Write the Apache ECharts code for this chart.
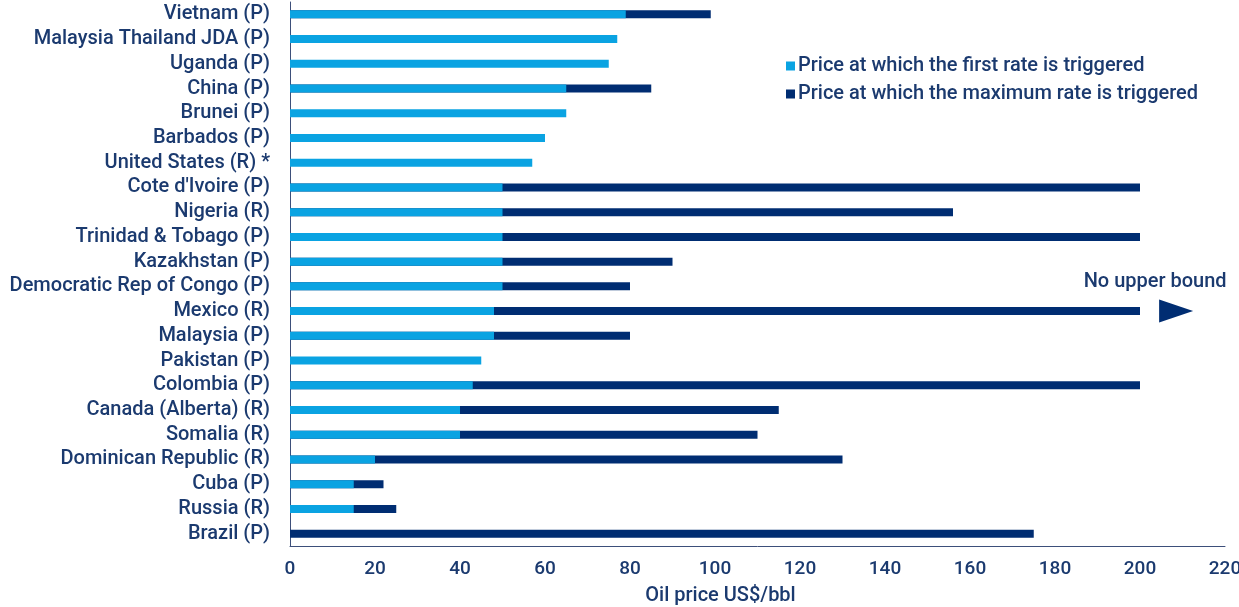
<!DOCTYPE html>
<html>
<head>
<meta charset="utf-8">
<script src="https://cdn.jsdelivr.net/npm/echarts@6/dist/echarts.min.js"></script>
<style>html,body{margin:0;padding:0;background:#fff;}#c{width:1239px;height:607px;}</style>
</head>
<body>
<div id="c"></div>
<script>
const categories = ["Vietnam (P)","Malaysia Thailand JDA (P)","Uganda (P)","China (P)","Brunei (P)","Barbados (P)","United States (R) *","Cote d'Ivoire (P)","Nigeria (R)","Trinidad & Tobago (P)","Kazakhstan (P)","Democratic Rep of Congo (P)","Mexico (R)","Malaysia (P)","Pakistan (P)","Colombia (P)","Canada (Alberta) (R)","Somalia (R)","Dominican Republic (R)","Cuba (P)","Russia (R)","Brazil (P)"];
const firstRate = [79,77,75,65,65,60,57,50,50,50,50,50,48,48,45,43,40,40,20,15,15,0];
const maxRate = [99,null,null,85,null,null,null,200,156,200,90,80,200,80,null,200,115,110,130,22,25,175];
const xTicks = [0,20,40,60,80,100,120,140,160,180,200,220];
const seriesNames = ["Price at which the first rate is triggered","Price at which the maximum rate is triggered"];
const noBoundLabel = "No upper bound";
const noBoundCategory = "Mexico (R)";
const noBoundArrowAt = 208.5;

const navy = '#1b3a6f';
const fs = 20;
const chart = echarts.init(document.getElementById('c'));
chart.setOption({
  animation: false,
  textStyle: { fontFamily: 'Roboto' },
  grid: { left: 290, right: 14, top: 2, bottom: 61, containLabel: false, outerBoundsMode: 'none' },
  legend: {
    orient: 'vertical', left: 781, top: 51,
    data: seriesNames,
    itemWidth: 9, itemHeight: 9, itemGap: 8,
    icon: 'rect',
    textStyle: { color: navy, fontSize: fs, fontWeight: 500, fontFamily: 'Roboto', padding: [0,0,0,-2] }
  },
  xAxis: {
    type: 'value', min: 0, max: 220, interval: 20,
    axisLine: { show: true, lineStyle: { color: '#3d4f7a', width: 1 } },
    axisTick: { show: false },
    splitLine: { show: false },
    axisLabel: { color: navy, fontSize: 19, fontWeight: 500, margin: 14,
      formatter: v => xTicks.includes(v) ? String(v) : '' },
    name: 'Oil price US$/bbl', nameLocation: 'middle', nameGap: 40,
    nameTextStyle: { color: navy, fontSize: fs, fontWeight: 500, padding: [0, 74, 0, 0] }
  },
  yAxis: {
    type: 'category', data: categories, inverse: true,
    axisLine: { show: true, lineStyle: { color: '#3d4f7a', width: 1 } },
    axisTick: { show: false },
    axisLabel: { color: navy, fontSize: fs, fontWeight: 500, margin: 20, interval: 0 }
  },
  series: [
    {
      name: seriesNames[1], type: 'bar', data: maxRate, barWidth: 8,
      itemStyle: { color: '#002d72' }, z: 2,
      markPoint: {
        data: [{
          coord: [noBoundArrowAt, noBoundCategory],
          symbol: 'triangle', symbolSize: [23, 34], symbolRotate: -90,
          itemStyle: { color: '#002d72' },
          label: { show: true, formatter: noBoundLabel, position: 'top', distance: 8, offset: [-21, 0],
            color: navy, fontSize: fs, fontWeight: 500, fontFamily: 'Roboto' }
        }]
      }
    },
    {
      name: seriesNames[0], type: 'bar', data: firstRate, barWidth: 8, barGap: '-100%',
      itemStyle: { color: '#0aa3e2' }, z: 3
    }
  ]
});
</script>
</body>
</html>
